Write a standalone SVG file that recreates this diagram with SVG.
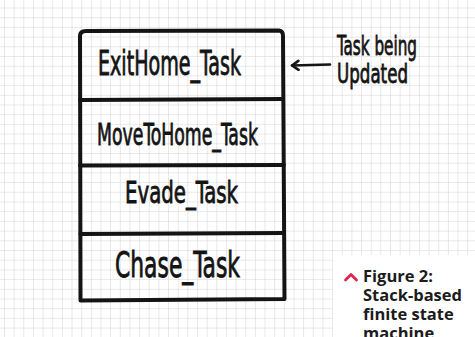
<svg xmlns="http://www.w3.org/2000/svg" width="475" height="337" viewBox="0 0 475 337">
<defs>
<pattern id="grid" x="4" y="7.5" width="9.65" height="9.7" patternUnits="userSpaceOnUse">
<path d="M0 0V9.7M0 0H9.65" fill="none" stroke="#d4d4d4" stroke-width="1.1"/>
</pattern>
<marker id="head" viewBox="0 0 12 12" refX="9.5" refY="6" markerWidth="12" markerHeight="12" markerUnits="userSpaceOnUse" orient="auto">
<path d="M3 1.5 L9.5 6 L3 10.5" fill="none" stroke="#151515" stroke-width="2.6" stroke-linecap="round" stroke-linejoin="round"/>
</marker>
<style>
.hand{font-family:"Liberation Sans Narrow","DejaVu Sans Condensed","Liberation Sans",sans-serif;fill:#141414;stroke:#141414;stroke-width:0.8;}
.box{fill:none;stroke:#141414;stroke-width:4;stroke-linecap:round;stroke-linejoin:round;}
.cap{font-family:"Open Sans","Lato",sans-serif;font-weight:700;font-size:16.5px;fill:#1c1c1c;}
</style>
</defs>
<rect width="475" height="337" fill="#ffffff"/>
<rect width="475" height="337" fill="url(#grid)"/>

<g id="stack">
<path class="box" d="M80 36 Q80 31 86 31 L279 30.5 Q283 31 283 36 L284.5 299 L80.5 300.5 Z"/>
</g>
<g id="exithome">
<line class="box" x1="80" y1="100" x2="283" y2="99"/>
<text class="hand" x="98" y="75" font-size="33" textLength="143" lengthAdjust="spacingAndGlyphs">ExitHome_Task</text>
</g>
<g id="movetohome">
<line class="box" x1="80" y1="165.5" x2="284" y2="165"/>
<text class="hand" x="97" y="145" font-size="31" textLength="161" lengthAdjust="spacingAndGlyphs">MoveToHome_Task</text>
</g>
<g id="evade">
<line class="box" x1="80.5" y1="234" x2="284" y2="233"/>
<text class="hand" x="125" y="203" font-size="31" textLength="113" lengthAdjust="spacingAndGlyphs">Evade_Task</text>
</g>
<g id="chase">
<text class="hand" x="115" y="277" font-size="35" textLength="125" lengthAdjust="spacingAndGlyphs">Chase_Task</text>
</g>

<g id="connectors">
<line x1="330" y1="64.5" x2="292" y2="65.5" stroke="#151515" stroke-width="2.6" stroke-linecap="round" marker-end="url(#head)"/>
</g>
<g id="note">
<text class="hand" x="337" y="55" font-size="27" textLength="80" lengthAdjust="spacingAndGlyphs">Task being</text>
<text class="hand" x="337" y="83" font-size="27" textLength="71" lengthAdjust="spacingAndGlyphs">Updated</text>
</g>

<g id="caption">
<rect x="333" y="255" width="142" height="82" fill="#ffffff"/>
<path d="M345.5 280 L351 274.5 L356.5 280" fill="none" stroke="#e3224d" stroke-width="2.8" stroke-linecap="round" stroke-linejoin="round"/>
<text class="cap" x="363" y="282">Figure 2:</text>
<text class="cap" x="363" y="301" textLength="99" lengthAdjust="spacingAndGlyphs">Stack-based</text>
<text class="cap" x="363" y="320">finite state</text>
<text class="cap" x="363" y="339">machine</text>
</g>
</svg>
